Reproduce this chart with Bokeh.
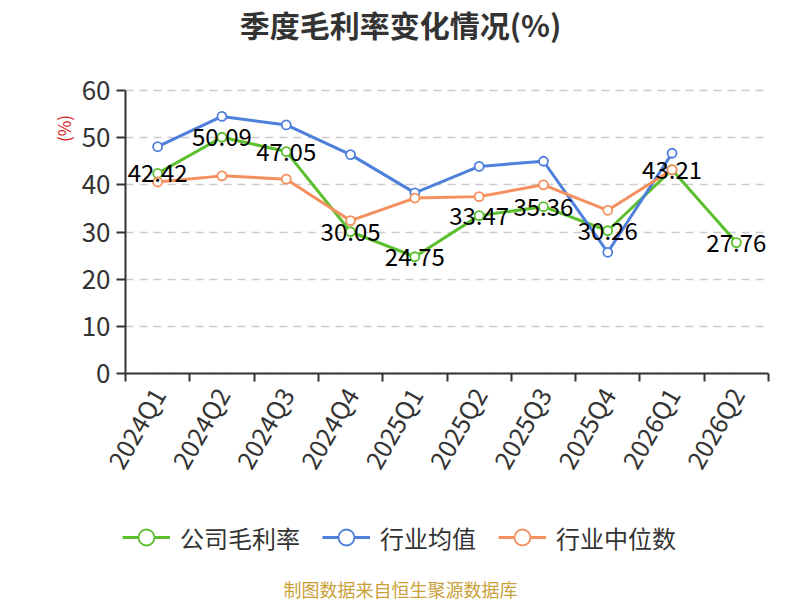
import math

from bokeh.core.properties import value
from bokeh.embed import file_html
from bokeh.models import ColumnDataSource, FixedTicker, Label, Legend, LegendItem
from bokeh.plotting import figure
from bokeh.resources import INLINE

FONT = "Noto Sans CJK SC"

quarters = ["2024Q1", "2024Q2", "2024Q3", "2024Q4", "2025Q1",
            "2025Q2", "2025Q3", "2025Q4", "2026Q1", "2026Q2"]
company = [42.42, 50.09, 47.05, 30.05, 24.75, 33.47, 35.36, 30.26, 43.21, 27.76]
industry_avg = [48.1, 54.5, 52.7, 46.4, 38.3, 43.9, 45.0, 25.7, 46.7]
industry_median = [40.6, 41.9, 41.2, 32.4, 37.2, 37.5, 40.0, 34.6, 43.2]

GREEN = "#5bbf2e"
BLUE = "#4d7fdb"
ORANGE = "#f58f5d"

W, H = 800, 600
TITLE_H = 47                                   # Hoehe des Titelbereichs
TOP, AXIS_Y, LEFT, RIGHT = 90, 373, 125, 768   # Pixelrahmen der Achsen
Y_MAX = 60
N = len(quarters)

# Zeichenflaeche ueber die ganze Breite und bis unten, damit Achsenbeschriftung,
# Legende und Quelle darin liegen; Achsen sitzen fest bei 0
py = (AXIS_Y - TOP) / Y_MAX
px = (RIGHT - LEFT) / N
y_range = (-(H - AXIS_Y) / py, Y_MAX + (TOP - TITLE_H) / py)
x_range = (-LEFT / px, N + (W - RIGHT) / px)

# Kategorien als Bandmitten auf einer numerischen Achse
xs = [i + 0.5 for i in range(N)]

p = figure(width=W, height=H, x_range=x_range, y_range=y_range,
           output_backend="svg", toolbar_location=None,
           min_border_left=0, min_border_right=0,
           min_border_bottom=0, min_border_top=TITLE_H)
p.outline_line_color = None

p.title.text = "季度毛利率变化情况(%)"
p.title.align = "center"
p.title.vertical_align = "top"
p.title.standoff = 0
p.title.text_font = FONT
p.title.text_font_size = "30px"
p.title.text_font_style = "bold"
p.title.text_color = "#333333"

# x-Achse: Striche an den Bandgrenzen, Beschriftung in der Mitte
xaxis = p.xaxis[0]
xaxis.fixed_location = 0
xaxis.bounds = (0, N)
xaxis.ticker = FixedTicker(ticks=xs, minor_ticks=list(range(N + 1)))
xaxis.major_label_overrides = {x: q for x, q in zip(xs, quarters)}
xaxis.major_tick_out = 0
xaxis.major_tick_in = 0
xaxis.minor_tick_out = 8
xaxis.minor_tick_in = 0
xaxis.minor_tick_line_color = "#333333"
xaxis.minor_tick_line_width = 2
xaxis.major_label_orientation = math.pi / 3
xaxis.major_label_standoff = 8
xaxis.major_label_text_font = FONT
xaxis.major_label_text_font_size = "25px"
xaxis.major_label_text_color = "#333333"
xaxis.axis_line_color = "#333333"
xaxis.axis_line_width = 2

yaxis = p.yaxis[0]
yaxis.fixed_location = 0
yaxis.bounds = (0, Y_MAX)
yaxis.ticker = FixedTicker(ticks=[0, 10, 20, 30, 40, 50, 60])
yaxis.major_tick_out = 9
yaxis.major_tick_in = 0
yaxis.major_tick_line_color = "#333333"
yaxis.major_tick_line_width = 2
yaxis.minor_tick_line_color = None
yaxis.major_label_standoff = 6
yaxis.major_label_text_font = FONT
yaxis.major_label_text_font_size = "26px"
yaxis.major_label_text_color = "#333333"
yaxis.axis_line_color = "#333333"
yaxis.axis_line_width = 2

p.xgrid.visible = False
p.ygrid.cross_bounds = (0, N)
p.ygrid.grid_line_color = "#cccccc"
p.ygrid.grid_line_width = 1.5
p.ygrid.grid_line_dash = "8 6"

src = ColumnDataSource(dict(x=xs, y=company, label=[f"{v:.2f}" for v in company]))

items = []
for name, vals, color in [("公司毛利率", company, GREEN),
                          ("行业均值", industry_avg, BLUE),
                          ("行业中位数", industry_median, ORANGE)]:
    xv = xs[:len(vals)]
    ln = p.line(xv, vals, line_color=color, line_width=3)
    sc = p.scatter(xv, vals, marker="circle", size=9, fill_color="white",
                   line_color=color, line_width=1.8)
    items.append(LegendItem(label=name, renderers=[ln, sc]))

p.text("x", "y", text="label", source=src, text_align="center",
       text_baseline="middle", text_font=value(FONT), text_font_size="24px",
       text_color="#000000")

# Legende, Einheit und Quelle: Pixel ab Rahmen unten links
legend = Legend(items=items, location=(122, H - 557), orientation="horizontal",
                glyph_width=48, glyph_height=40, label_standoff=10, spacing=22,
                padding=0, margin=0, border_line_color=None,
                background_fill_alpha=0, label_text_font=FONT,
                label_text_font_size="24px", label_text_color="#333333")
p.add_layout(legend)

p.add_layout(Label(x=63, y=H - 128, x_units="screen", y_units="screen",
                   text="(%)", angle=math.pi / 2, text_align="center",
                   text_baseline="middle", text_font=FONT, text_font_size="17px",
                   text_color="#d42020"))
p.add_layout(Label(x=400, y=H - 588, x_units="screen", y_units="screen",
                   text="制图数据来自恒生聚源数据库", text_align="center",
                   text_baseline="middle", text_font=FONT, text_font_size="18px",
                   text_color="#c9a13b"))

open("out.html", "w").write(file_html(p, INLINE))
